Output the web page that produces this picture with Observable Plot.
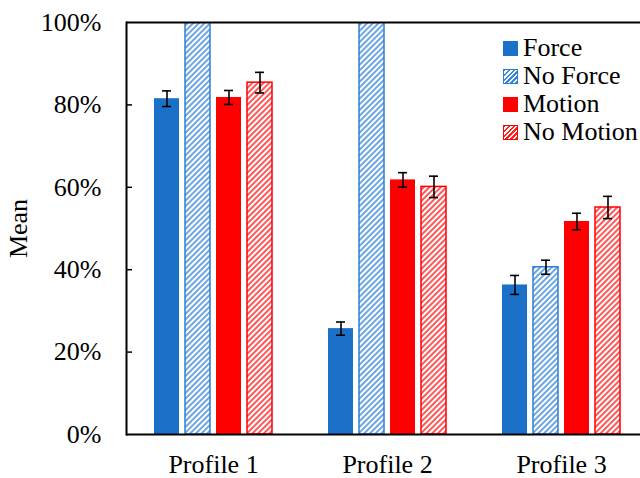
<!DOCTYPE html>
<html><head><meta charset="utf-8">
<script src="https://cdn.jsdelivr.net/npm/d3@7"></script>
<script src="https://cdn.jsdelivr.net/npm/@observablehq/plot@0.6"></script>
<style>
body{margin:0;background:#fff;}
#wrap{position:relative;width:640px;height:478px;overflow:hidden;font-family:"Liberation Serif","Times New Roman",serif;}
.legend{position:absolute;left:503px;top:34px;font-size:26px;color:#000;}
.row{display:flex;align-items:center;height:28px;white-space:nowrap;}
.sw{width:15px;height:15px;margin-right:5px;box-sizing:border-box;flex:none;}
</style></head><body><div id="wrap"></div>
<script>
const profiles = ["Profile 1", "Profile 2", "Profile 3"];
const series = ["Force", "No Force", "Motion", "No Motion"];
const force = [0.815, 0.257, 0.363];
const noForce = [1.0, 1.0, 0.406];
const motion = [0.818, 0.618, 0.517];
const noMotion = [0.854, 0.601, 0.551];
const forceErr = [0.019, 0.016, 0.023];
const noForceErr = [null, null, 0.017];
const motionErr = [0.017, 0.0175, 0.02];
const noMotionErr = [0.025, 0.026, 0.027];
const yTickLabels = [0, 0.2, 0.4, 0.6, 0.8, 1];
const yInnerTicks = [0.2, 0.4, 0.6, 0.8];

const BLUE = "#1b70c8", RED = "#ff0000";
const fills = {"Force": BLUE, "No Force": "url(#hatchBlue)", "Motion": RED, "No Motion": "url(#hatchRed)"};
const strokes = {"Force": "none", "No Force": "#2e7fd4", "Motion": "none", "No Motion": RED};

const values = [force, noForce, motion, noMotion];
const errs = [forceErr, noForceErr, motionErr, noMotionErr];
const data = [];
profiles.forEach((p, i) => series.forEach((s, j) => {
  data.push({profile: p, series: s, value: values[j][i], err: errs[j][i]});
}));
const errData = data.filter(d => d.err != null);

const plot = Plot.plot({
  width: 640, height: 478,
  marginLeft: 126, marginTop: 22, marginBottom: 44, marginRight: 0,
  style: {fontFamily: "'Liberation Serif', 'Times New Roman', serif", fontSize: "26px", color: "#000", background: "#fff", overflow: "visible"},
  fx: {domain: profiles, range: [126, 648], padding: 0, label: null},
  x: {domain: series, paddingInner: 0.18, paddingOuter: 0.835, axis: null},
  y: {domain: [0, 1], axis: null},
  color: {type: "identity"},
  marks: [
    Plot.barY(data, {fx: "profile", x: "series", y: "value", fill: d => fills[d.series], stroke: d => strokes[d.series], strokeWidth: 1.5, clip: true}),
    Plot.ruleX(errData, {fx: "profile", x: "series", y1: d => d.value - d.err, y2: d => d.value + d.err, stroke: "#000", strokeWidth: 1.6}),
    Plot.tickY(errData, {fx: "profile", x: "series", y: d => d.value - d.err, stroke: "#000", strokeWidth: 1.6, insetLeft: 8, insetRight: 8}),
    Plot.tickY(errData, {fx: "profile", x: "series", y: d => d.value + d.err, stroke: "#000", strokeWidth: 1.6, insetLeft: 8, insetRight: 8}),
    Plot.ruleY([0], {stroke: "#000", strokeWidth: 2}),
    Plot.ruleY([1], {stroke: "#000", strokeWidth: 2}),
    Plot.ruleY(yInnerTicks, {fx: () => profiles[0], y: d => d, stroke: "#000", strokeWidth: 1.5, insetRight: 168}),
    Plot.frame({anchor: "left", facet: "super", stroke: "#000", strokeWidth: 2}),
    Plot.axisY(yTickLabels, {tickSize: 0, tickPadding: 25, tickFormat: d3.format(".0%"), label: "Mean", labelAnchor: "center", labelArrow: "none", labelOffset: 118, fontSize: 26}),
    Plot.axisFx({anchor: "bottom", tickSize: 0, tickPadding: 20, label: null, fontSize: 26})
  ]
});

const svg = d3.select(plot);
const defs = svg.insert("defs", ":first-child");
function hatch(id, color) {
  const p = defs.append("pattern").attr("id", id).attr("patternUnits", "userSpaceOnUse")
    .attr("width", 4).attr("height", 4).attr("patternTransform", "rotate(45)");
  p.append("rect").attr("width", 4).attr("height", 4).attr("fill", "#fff");
  p.append("line").attr("x1", 1).attr("y1", 0).attr("x2", 1).attr("y2", 4)
    .attr("stroke", color).attr("stroke-width", 1.5);
}
hatch("hatchBlue", "#3a88da");
hatch("hatchRed", "#ff2020");

const wrap = document.getElementById("wrap");
wrap.appendChild(plot);

const legend = document.createElement("div");
legend.className = "legend";
const swatchCss = {
  "Force": `background:${BLUE};`,
  "No Force": `border:1.5px solid #2e7fd4;background:repeating-linear-gradient(-45deg,#3a88da 0 1.5px,#fff 1.5px 3.5px);`,
  "Motion": `background:${RED};`,
  "No Motion": `border:1.5px solid ${RED};background:repeating-linear-gradient(-45deg,#ff2020 0 1.5px,#fff 1.5px 3.5px);`
};
series.forEach(s => {
  const row = document.createElement("div");
  row.className = "row";
  const sw = document.createElement("div");
  sw.className = "sw";
  sw.style.cssText = swatchCss[s];
  const t = document.createElement("span");
  t.textContent = s;
  row.appendChild(sw); row.appendChild(t);
  legend.appendChild(row);
});
wrap.appendChild(legend);
</script></body></html>
